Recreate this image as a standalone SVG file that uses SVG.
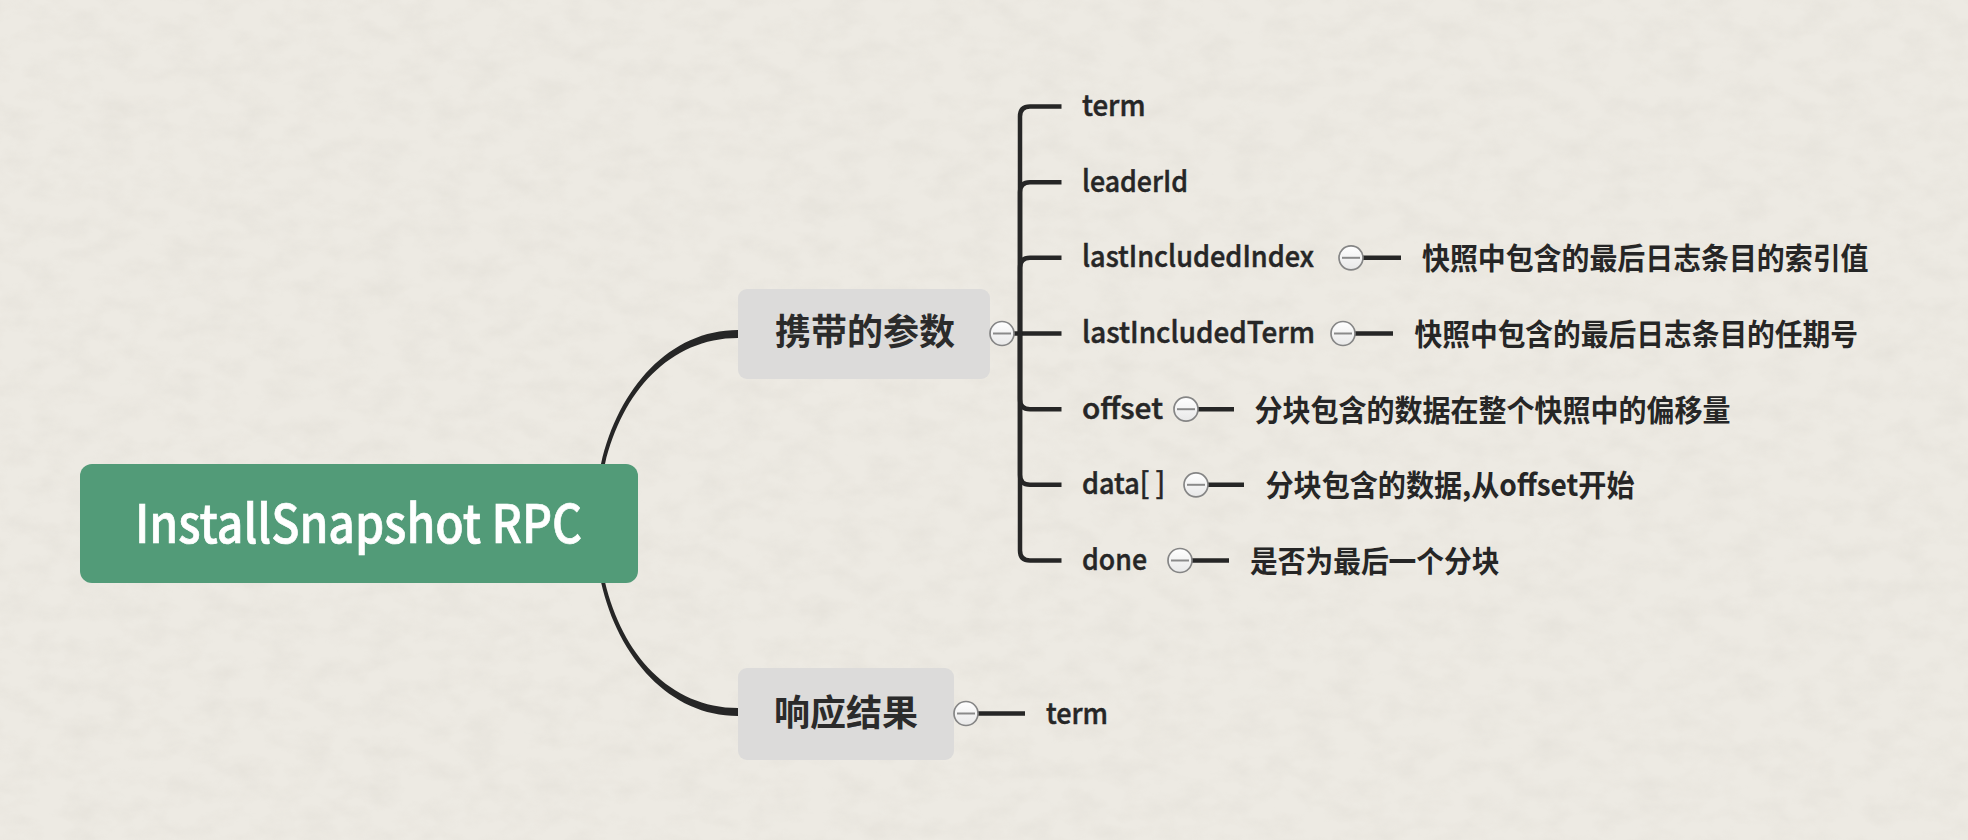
<svg xmlns="http://www.w3.org/2000/svg" width="1968" height="840" viewBox="0 0 1968 840">
<style>
.bg{fill:#EDEAE3}
.root-box{fill:#529B78}
.root-text{font-family:"Noto Sans CJK SC","Noto Sans",sans-serif;font-size:53px;font-weight:500;fill:#FFFFFF;stroke:#FFFFFF;stroke-width:0.7}
.sub-box{fill:#DCDBDA}
.sub-text{font-family:"Noto Sans CJK SC","Noto Sans",sans-serif;font-size:36px;font-weight:700;fill:#2B2B2B}
.leaf{font-family:"Noto Sans CJK SC","Noto Sans",sans-serif;font-size:29.5px;font-weight:500;fill:#262626;stroke:#262626;stroke-width:0.5}
.desc{font-family:"Noto Sans CJK SC","Noto Sans",sans-serif;font-size:29.5px;font-weight:700;fill:#262626}
.line{fill:none;stroke:#262626;stroke-width:4.5;stroke-linecap:butt}
.branch{fill:#262626}
.tog circle{fill:url(#tg);stroke:#858585;stroke-width:1.7}
.tog line{stroke:#8A8A8A;stroke-width:2}
</style>
<defs>
<linearGradient id="tg" x1="0" y1="0" x2="0" y2="1">
<stop offset="0" stop-color="#FFFFFF"/>
<stop offset="1" stop-color="#E8E8E8"/>
</linearGradient>
<filter id="paper" x="0" y="0" width="100%" height="100%">
<feTurbulence type="fractalNoise" baseFrequency="0.03 0.05" numOctaves="4" seed="3" result="n"/>
<feColorMatrix type="matrix" values="0 0 0 0 0.45  0 0 0 0 0.42  0 0 0 0 0.36  0 0 0 -1.2 0.75" in="n"/>
</filter>
</defs>
<rect class="bg" x="0" y="0" width="1968" height="840"/>
<rect x="0" y="0" width="1968" height="840" filter="url(#paper)" opacity="0.15"/>

<g id="connectors">
<path class="branch" d="M601,464 C618,388 670,330 738,330 L738,338 C670,338 622,392 605,464 Z"/>
<path class="branch" d="M601,582 C618,658 670,716 738,716 L738,708 C670,708 622,654 605,582 Z"/>
<path class="line" d="M1013,333.5 H1061.5"/>
<path class="line" d="M1020,333.5 V116.5 Q1020,106.5 1030,106.5 H1061.5"/>
<path class="line" d="M1020,333.5 V192.2 Q1020,182.2 1030,182.2 H1061.5"/>
<path class="line" d="M1020,333.5 V267.8 Q1020,257.8 1030,257.8 H1061.5"/>
<path class="line" d="M1020,333.5 V399.2 Q1020,409.2 1030,409.2 H1061.5"/>
<path class="line" d="M1020,333.5 V474.8 Q1020,484.8 1030,484.8 H1061.5"/>
<path class="line" d="M1020,333.5 V550.5 Q1020,560.5 1030,560.5 H1061.5"/>
<path class="line" d="M978,713.5 H1025"/>
<path class="line" d="M1363,257.8 H1401"/>
<path class="line" d="M1355,333.5 H1393"/>
<path class="line" d="M1198,409.2 H1234"/>
<path class="line" d="M1208,484.8 H1244"/>
<path class="line" d="M1192,560.5 H1229"/>
</g>

<g id="root">
<rect class="root-box" x="80" y="464" width="558" height="119" rx="12"/>
<text class="root-text" x="135" y="542.5" textLength="447" lengthAdjust="spacingAndGlyphs">InstallSnapshot RPC</text>
</g>

<g id="params">
<rect class="sub-box" x="738" y="289" width="252" height="90" rx="9"/>
<text class="sub-text" x="865" y="345" text-anchor="middle">携带的参数</text>
<g class="tog"><circle cx="1002" cy="333.5" r="12"/><line x1="993" y1="333.5" x2="1011" y2="333.5"/></g>
</g>

<g id="response">
<rect class="sub-box" x="738" y="668" width="216" height="92" rx="9"/>
<text class="sub-text" x="846" y="725.5" text-anchor="middle">响应结果</text>
<g class="tog"><circle cx="966" cy="713.5" r="12"/><line x1="957" y1="713.5" x2="975" y2="713.5"/></g>
</g>

<g id="leaf-term"><text class="leaf" x="1082" y="116" textLength="63.5" lengthAdjust="spacingAndGlyphs">term</text></g>
<g id="leaf-leaderId"><text class="leaf" x="1082" y="191.7" textLength="106" lengthAdjust="spacingAndGlyphs">leaderId</text></g>
<g id="leaf-lastIncludedIndex">
<text class="leaf" x="1082" y="267.3" textLength="232" lengthAdjust="spacingAndGlyphs">lastIncludedIndex</text>
<g class="tog"><circle cx="1351" cy="257.8" r="12"/><line x1="1342" y1="257.8" x2="1360" y2="257.8"/></g>
</g>
<g id="desc-index"><text class="desc" x="1422" y="269.3" textLength="446.5" lengthAdjust="spacingAndGlyphs">快照中包含的最后日志条目的索引值</text></g>
<g id="leaf-lastIncludedTerm">
<text class="leaf" x="1082" y="343" textLength="233" lengthAdjust="spacingAndGlyphs">lastIncludedTerm</text>
<g class="tog"><circle cx="1343" cy="333.5" r="12"/><line x1="1334" y1="333.5" x2="1352" y2="333.5"/></g>
</g>
<g id="desc-term"><text class="desc" x="1414.5" y="345" textLength="443.5" lengthAdjust="spacingAndGlyphs">快照中包含的最后日志条目的任期号</text></g>
<g id="leaf-offset">
<text class="leaf" x="1082" y="418.7" textLength="81" lengthAdjust="spacingAndGlyphs">offset</text>
<g class="tog"><circle cx="1186" cy="409.2" r="12"/><line x1="1177" y1="409.2" x2="1195" y2="409.2"/></g>
</g>
<g id="desc-offset"><text class="desc" x="1254.5" y="420.7" textLength="476" lengthAdjust="spacingAndGlyphs">分块包含的数据在整个快照中的偏移量</text></g>
<g id="leaf-data">
<text class="leaf" x="1082" y="494.3" textLength="83" lengthAdjust="spacingAndGlyphs">data[ ]</text>
<g class="tog"><circle cx="1196" cy="484.8" r="12"/><line x1="1187" y1="484.8" x2="1205" y2="484.8"/></g>
</g>
<g id="desc-data"><text class="desc" x="1265.5" y="496.3" textLength="369" lengthAdjust="spacingAndGlyphs">分块包含的数据,从offset开始</text></g>
<g id="leaf-done">
<text class="leaf" x="1082" y="570" textLength="65" lengthAdjust="spacingAndGlyphs">done</text>
<g class="tog"><circle cx="1180" cy="560.5" r="12"/><line x1="1171" y1="560.5" x2="1189" y2="560.5"/></g>
</g>
<g id="desc-done"><text class="desc" x="1250" y="572" textLength="249.5" lengthAdjust="spacingAndGlyphs">是否为最后一个分块</text></g>
<g id="leaf-resp-term"><text class="leaf" x="1046" y="723.5" textLength="62" lengthAdjust="spacingAndGlyphs">term</text></g>
</svg>
